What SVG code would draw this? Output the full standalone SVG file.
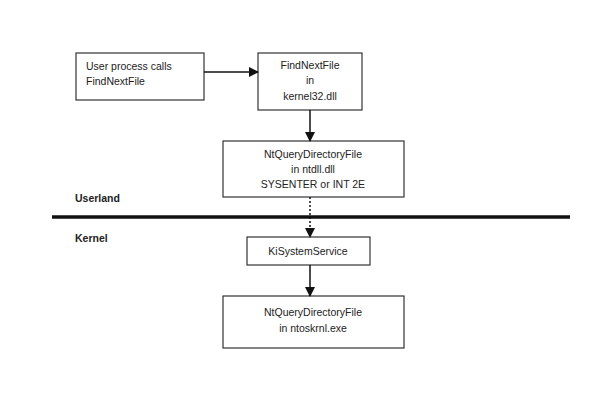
<svg xmlns="http://www.w3.org/2000/svg" width="600" height="404" viewBox="0 0 600 404">
<style>
rect{fill:#fff;stroke:#333;stroke-width:1.2}
text{font-family:"Liberation Sans",Arial,sans-serif;font-size:10.5px;fill:#222}
.c{text-anchor:middle}
.b{font-weight:bold}
.l{stroke:#111;stroke-width:1.5;fill:none}
</style>
<defs><marker id="a" markerWidth="10" markerHeight="10" refX="9" refY="5" orient="auto" markerUnits="userSpaceOnUse"><path d="M0,0L10,5L0,10z" fill="#111"/></marker></defs>
<rect width="600" height="404" style="fill:#fff;stroke:none"/>
<text x="75" y="202" class="b">Userland</text>
<text x="75" y="242" class="b">Kernel</text>
<line x1="52" y1="217" x2="570" y2="217" stroke="#111" stroke-width="3.5"/>
<g id="n1"><rect x="76" y="53" width="128" height="47"/><text x="86" y="70">User process calls</text><text x="86" y="85">FindNextFile</text></g>
<g id="n2"><rect x="258" y="53" width="104" height="57"/><text x="310" y="69" class="c">FindNextFile</text><text x="310" y="84" class="c">in</text><text x="310" y="100" class="c">kernel32.dll</text></g>
<g id="n3"><rect x="223" y="141" width="181" height="56"/><text x="313" y="158" class="c">NtQueryDirectoryFile</text><text x="313" y="173" class="c">in ntdll.dll</text><text x="313" y="188" class="c">SYSENTER or INT 2E</text></g>
<g id="n4"><rect x="247" y="237" width="123" height="28"/><text x="308" y="255" class="c">KiSystemService</text></g>
<g id="n5"><rect x="223" y="296" width="181" height="52"/><text x="313" y="316" class="c">NtQueryDirectoryFile</text><text x="313" y="332" class="c">in ntoskrnl.exe</text></g>
<g id="edges">
<line class="l" x1="204" y1="72" x2="258" y2="72" marker-end="url(#a)"/>
<line class="l" x1="310" y1="110" x2="310" y2="141" marker-end="url(#a)"/>
<line class="l" x1="310" y1="197" x2="310" y2="237" stroke-dasharray="2,2" marker-end="url(#a)"/>
<line class="l" x1="310" y1="265" x2="310" y2="296" marker-end="url(#a)"/>
</g>
</svg>
